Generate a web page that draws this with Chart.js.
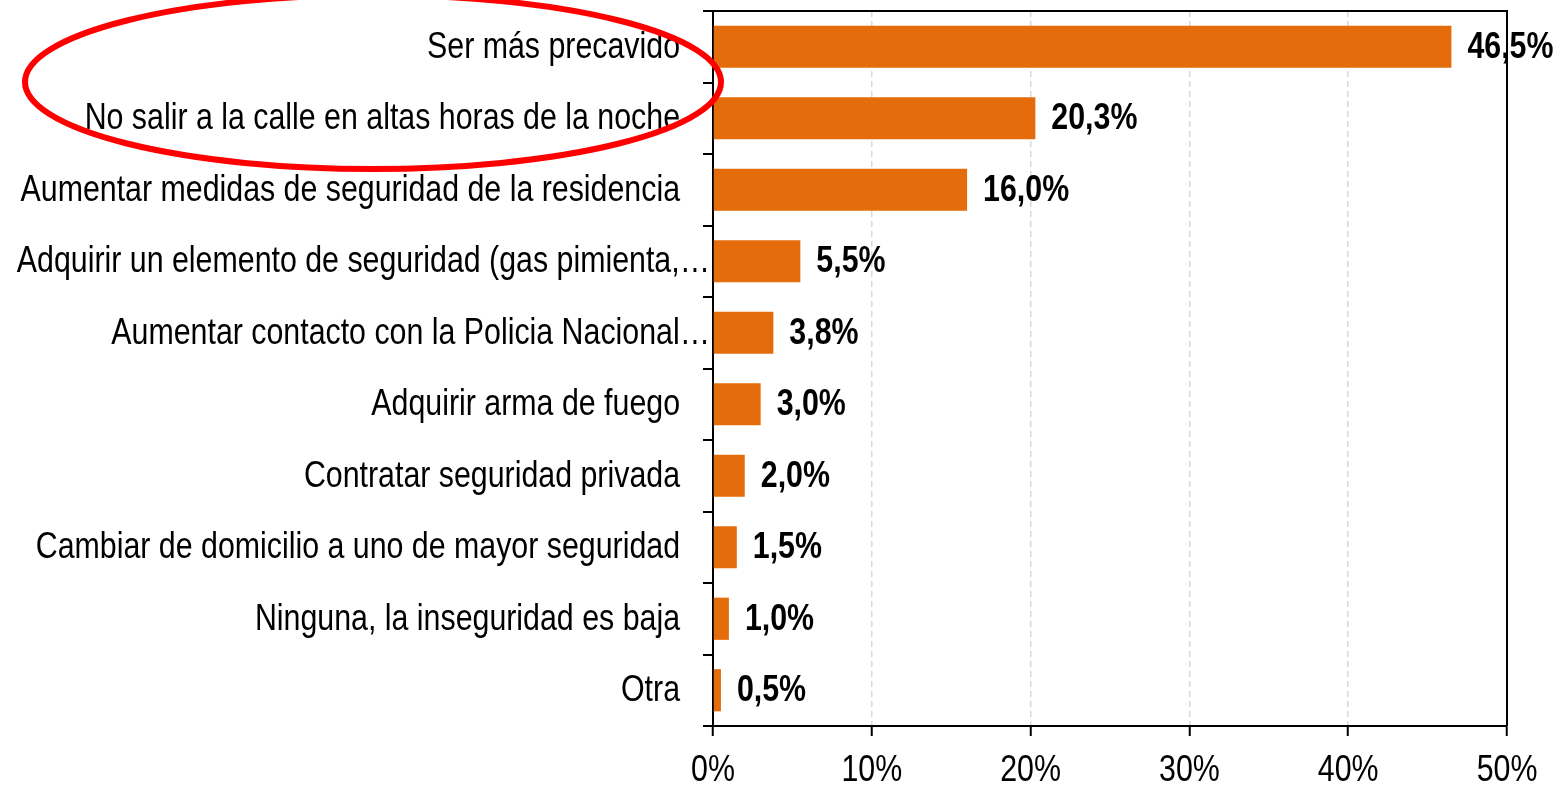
<!DOCTYPE html>
<html>
<head>
<meta charset="utf-8">
<script src="https://cdn.jsdelivr.net/npm/chart.js@4.4.1/dist/chart.umd.min.js"></script>
<style>
  body { margin: 0; background: #fff; }
  canvas { display: block; }
</style>
</head>
<body>
<canvas id="chart" width="1557" height="785"></canvas>
<script>
// categories, top to bottom
const categories = [
    'Ser más precavido',
    'No salir a la calle en altas horas de la noche',
    'Aumentar medidas de seguridad de la residencia',
    'Adquirir un elemento de seguridad (gas pimienta,…',
    'Aumentar contacto con la Policia Nacional…',
    'Adquirir arma de fuego',
    'Contratar seguridad privada',
    'Cambiar de domicilio a uno de mayor seguridad',
    'Ninguna, la inseguridad es baja',
    'Otra'
];
const percentages = [46.5, 20.3, 16.0, 5.5, 3.8, 3.0, 2.0, 1.5, 1.0, 0.5];
const xTicks = [0, 10, 20, 30, 40, 50];

const FONT = '"Liberation Sans", Arial, sans-serif';
const NARROW = 0.82; // no Arial Narrow here, so squeeze the regular face

function narrowText(ctx, txt, x, y, align) {
    ctx.save();
    ctx.translate(x, y);
    ctx.scale(NARROW, 1);
    ctx.textAlign = align;
    ctx.fillText(txt, 0, 0);
    ctx.restore();
}

// frame on top and right of the plot area
const framePlugin = {
    id: 'frame',
    afterDatasetsDraw(chart) {
        const { ctx, chartArea: a } = chart;
        ctx.save();
        ctx.strokeStyle = '#000';
        ctx.lineWidth = 2;
        ctx.beginPath();
        ctx.moveTo(a.left - 10, a.top);
        ctx.lineTo(a.right, a.top);
        ctx.lineTo(a.right, a.bottom);
        ctx.stroke();
        ctx.restore();
    }
};

// axis labels and value labels, drawn narrow
const labelsPlugin = {
    id: 'labels',
    afterDraw(chart) {
        const { ctx, scales } = chart;
        const axisX = scales.y.left + scales.y.width;
        ctx.save();
        ctx.fillStyle = '#000';
        ctx.textBaseline = 'middle';

        ctx.font = '37px ' + FONT;
        categories.forEach((c, i) => {
            // truncated labels run right up to the axis
            const right = c.endsWith('…') ? axisX - 3 : axisX - 33;
            narrowText(ctx, c, right, scales.y.getPixelForValue(i) + 1, 'right');
        });
        xTicks.forEach(v => {
            narrowText(ctx, v + '%', scales.x.getPixelForValue(v), 771, 'center');
        });

        ctx.font = 'bold 37px ' + FONT;
        chart.getDatasetMeta(0).data.forEach((bar, i) => {
            const txt = percentages[i].toFixed(1).replace('.', ',') + '%';
            narrowText(ctx, txt, bar.x + 16, bar.y + 1, 'left');
        });
        ctx.restore();
    }
};

// red highlight ellipse around the first two answers
const highlight = {
    id: 'highlight',
    afterDraw(chart) {
        const { ctx } = chart;
        ctx.save();
        ctx.strokeStyle = '#ff0000';
        ctx.lineWidth = 6;
        ctx.beginPath();
        ctx.ellipse(373, 82, 348, 87, 0, 0, Math.PI * 2);
        ctx.stroke();
        ctx.restore();
    }
};

new Chart(document.getElementById('chart'), {
    type: 'bar',
    data: {
        labels: categories,
        datasets: [{
            data: percentages,
            backgroundColor: '#E46C0A',
            borderWidth: 0,
            categoryPercentage: 1,
            barPercentage: 0.59
        }]
    },
    options: {
        indexAxis: 'y',
        responsive: false,
        animation: false,
        layout: { padding: { top: 11, right: 50, left: 0, bottom: 0 } },
        plugins: { legend: { display: false }, tooltip: { enabled: false } },
        scales: {
            x: {
                min: 0,
                max: 50,
                afterBuildTicks(scale) {
                    scale.ticks = xTicks.map(v => ({ value: v }));
                },
                afterFit(scale) {
                    scale.height = 59;
                    scale.paddingLeft = 0;
                    scale.paddingRight = 0;
                },
                grid: {
                    color: '#d9d9d9',
                    lineWidth: 1.5,
                    tickColor: '#000',
                    tickWidth: 2,
                    tickLength: 10
                },
                border: { display: true, color: '#000', width: 2, dash: [6, 4] },
                ticks: { display: false }
            },
            y: {
                afterFit(scale) {
                    scale.width = 713;
                    scale.paddingTop = 0;
                    scale.paddingBottom = 0;
                },
                grid: {
                    offset: true,
                    drawOnChartArea: false,
                    color: '#000',
                    tickLength: 10,
                    lineWidth: 2
                },
                border: { display: true, color: '#000', width: 2 },
                ticks: { display: false, autoSkip: false }
            }
        }
    },
    plugins: [framePlugin, labelsPlugin, highlight]
});
</script>
</body>
</html>
